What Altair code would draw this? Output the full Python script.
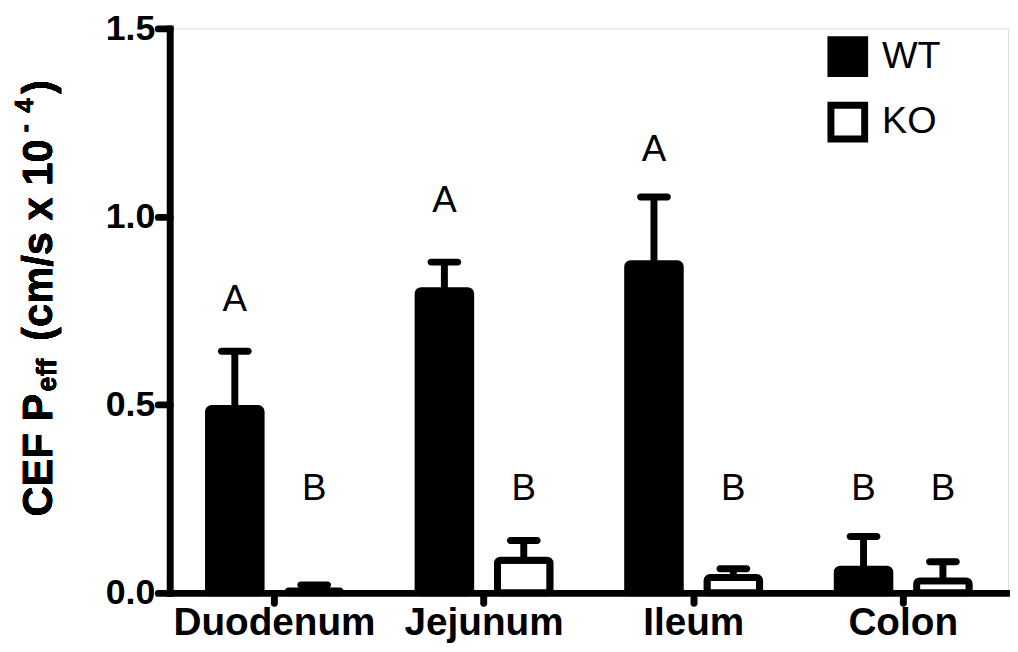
import altair as alt
import pandas as pd

# ---- data ----
regions = ["Duodenum", "Jejunum", "Ileum", "Colon"]
genotypes = ["WT", "KO"]
wt_mean = [0.49, 0.803, 0.875, 0.063]
wt_sem = [0.152, 0.076, 0.177, 0.087]
ko_mean = [0.005, 0.087, 0.041, 0.032]
ko_sem = [0.016, 0.052, 0.023, 0.051]
wt_letters = ["A", "A", "A", "B"]
ko_letters = ["B", "B", "B", "B"]
wt_letter_y = [0.749, 1.011, 1.148, 0.247]
ko_letter_y = [0.247, 0.247, 0.247, 0.247]
y_ticks = [0.0, 0.5, 1.0, 1.5]

rows = []
for i, r in enumerate(regions):
    rows.append(dict(region=r, genotype="WT", mean=wt_mean[i], top=wt_mean[i] + wt_sem[i],
                     letter=wt_letters[i], letter_y=wt_letter_y[i]))
    rows.append(dict(region=r, genotype="KO", mean=ko_mean[i], top=ko_mean[i] + ko_sem[i],
                     letter=ko_letters[i], letter_y=ko_letter_y[i]))
df = pd.DataFrame(rows)

FONT = "Liberation Sans"
TOP = 26  # page y of plot top

x = alt.X("region:N", sort=regions, title=None,
          scale=alt.Scale(paddingInner=0, paddingOuter=0),
          axis=alt.Axis(labelAngle=0, labelFontSize=39, labelFontWeight="bold",
                        labelFont=FONT, labelColor="black", labelPadding=1, labelLimit=400,
                        tickSize=10, tickWidth=7, tickColor="black", tickCap="round",
                        tickBand="center",
                        domainWidth=7, domainColor="black", domainCap="square"))
xoff = alt.XOffset("genotype:N", sort=genotypes,
                   scale=alt.Scale(paddingInner=0.3375, paddingOuter=0.489))
yscale = alt.Scale(domain=[0, 1.5], nice=False, zero=True)
yaxis = alt.Axis(values=y_ticks, format=".1f", labelFontSize=36, labelFontWeight="bold",
                 labelFont=FONT, labelColor="black", labelPadding=3,
                 tickSize=12, tickWidth=7, tickColor="black", tickCap="round",
                 domainWidth=7, domainColor="black", domainCap="square", grid=False)

base = alt.Chart(df)

bars = base.mark_bar(stroke="black", strokeWidth=7, cornerRadius=3, strokeJoin="round").encode(
    x=x, xOffset=xoff,
    y=alt.Y("mean:Q", scale=yscale, axis=yaxis, title=None),
    fill=alt.Fill("genotype:N", sort=genotypes,
                  scale=alt.Scale(domain=genotypes, range=["black", "white"]),
                  legend=alt.Legend(title=None, orient="none", legendX=663, legendY=8,
                                    symbolType="square", symbolSize=1156,
                                    symbolStrokeWidth=7, symbolStrokeColor="black",
                                    labelFontSize=38, labelFont=FONT, labelColor="black",
                                    labelOffset=14, rowPadding=3, padding=0)),
)

stems = base.mark_rule(color="black", strokeWidth=7).encode(
    x=x, xOffset=xoff, y="mean:Q", y2="top:Q")

caps = base.mark_tick(color="black", thickness=7, size=34, cornerRadius=3.5, opacity=1).encode(
    x=x, xOffset=xoff, y="top:Q")

letters = base.mark_text(font=FONT, fontSize=37, color="black", baseline="alphabetic",
                         align="center").encode(
    x=x, xOffset=xoff, y="letter_y:Q", text="letter:N")


# y-axis title built from pieces (subscript / superscript), page coords -> plot coords
def piece(txt, page_x, page_y, size):
    return alt.Chart(df).mark_text(text=txt, font=FONT, fontSize=size, fontWeight="bold",
                                   angle=270, align="left", baseline="alphabetic",
                                   color="black").encode(x=alt.value(page_x - 171),
                                                         y=alt.value(page_y - TOP))


title_parts = [
    piece("CEF P", 52, 518, 42),
    piece("eff", 56, 392, 27),
    piece("(cm/s x 10", 52, 341, 42),
    piece("-", 33, 131, 26),
    piece("4", 33, 111, 26),
    piece(")", 52, 92, 42),
]

chart = alt.layer(bars, stems, caps, letters, *title_parts).properties(
    width=845, height=595 - TOP,
    autosize=alt.AutoSizeParams(type="none"),
    padding={"left": 163, "top": TOP - 8, "right": 2, "bottom": 56},
).configure_view(stroke=None).configure(background="white")

chart.save("out.html", embed_options={"renderer": "svg", "actions": False})
